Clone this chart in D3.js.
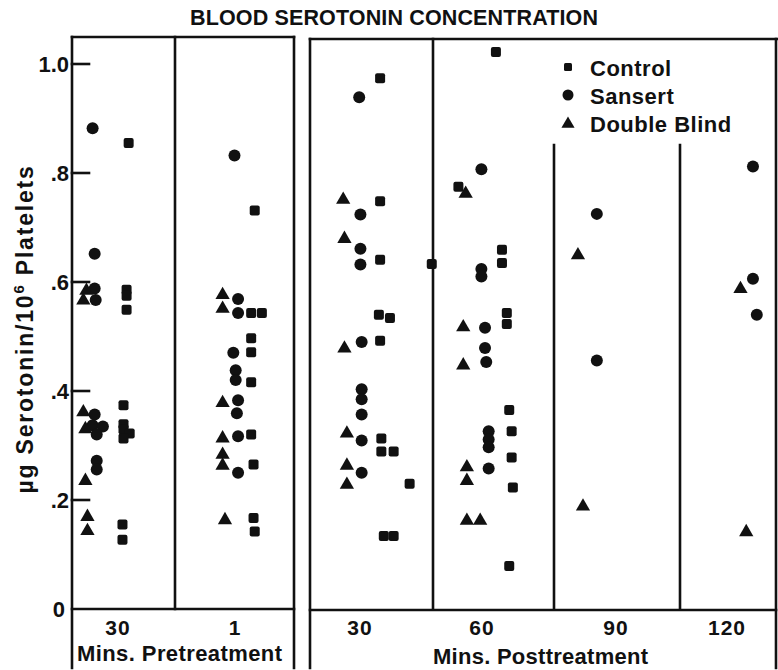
<!DOCTYPE html>
<html><head><meta charset="utf-8">
<script src="https://cdn.jsdelivr.net/npm/d3@7"></script>
<style>html,body{margin:0;padding:0;background:#fff;}svg{display:block;}</style>
</head><body>
<script>
// ---- data ----
const title = "BLOOD SEROTONIN CONCENTRATION";
const yLabel = "µg Serotonin/10";
const groups = ["pre30", "pre1", "post30", "post60", "post90", "post120"];
const groupLabels = ["30", "1", "30", "60", "90", "120"];
const phaseLabels = ["Mins. Pretreatment", "Mins. Posttreatment"];
const yTicks = [0, 0.2, 0.4, 0.6, 0.8, 1.0];
const yTickLabels = ["0", ".2", ".4", ".6", ".8", "1.0"];
const seriesNames = ["Control", "Sansert", "Double Blind"];
// each point: [group, value, within-group jitter (0..1)]
const controlPoints = [
  ["pre30",0.855,0.55],["pre30",0.586,0.53],["pre30",0.575,0.53],["pre30",0.549,0.53],["pre30",0.374,0.50],
  ["pre30",0.339,0.50],["pre30",0.330,0.50],["pre30",0.322,0.56],["pre30",0.313,0.50],["pre30",0.155,0.49],["pre30",0.127,0.49],
  ["pre1",0.731,0.67],["pre1",0.543,0.64],["pre1",0.543,0.73],["pre1",0.497,0.64],["pre1",0.471,0.64],
  ["pre1",0.416,0.64],["pre1",0.320,0.64],["pre1",0.265,0.66],["pre1",0.167,0.66],["pre1",0.142,0.67],
  ["post30",0.974,0.57],["post30",0.748,0.57],["post30",0.641,0.57],["post30",0.540,0.56],["post30",0.534,0.65],
  ["post30",0.492,0.57],["post30",0.313,0.58],["post30",0.289,0.58],["post30",0.289,0.68],["post30",0.230,0.81],
  ["post30",0.134,0.60],["post30",0.134,0.68],["post30",0.633,0.99],
  ["post60",1.022,0.52],["post60",0.775,0.21],["post60",0.659,0.57],["post60",0.635,0.57],["post60",0.543,0.61],
  ["post60",0.523,0.61],["post60",0.365,0.63],["post60",0.326,0.65],["post60",0.278,0.65],["post60",0.223,0.66],["post60",0.079,0.63]
];
const sansertPoints = [
  ["pre30",0.882,0.20],["pre30",0.652,0.22],["pre30",0.588,0.22],["pre30",0.567,0.23],["pre30",0.357,0.22],
  ["pre30",0.337,0.20],["pre30",0.335,0.30],["pre30",0.320,0.24],["pre30",0.272,0.24],["pre30",0.256,0.24],
  ["pre1",0.832,0.50],["pre1",0.569,0.53],["pre1",0.543,0.53],["pre1",0.470,0.49],["pre1",0.438,0.51],
  ["pre1",0.420,0.51],["pre1",0.383,0.53],["pre1",0.359,0.52],["pre1",0.317,0.53],["pre1",0.250,0.53],
  ["post30",0.939,0.40],["post30",0.724,0.41],["post30",0.661,0.41],["post30",0.632,0.41],["post30",0.490,0.42],
  ["post30",0.403,0.42],["post30",0.385,0.42],["post30",0.357,0.42],["post30",0.309,0.42],["post30",0.250,0.42],
  ["post60",0.807,0.40],["post60",0.624,0.40],["post60",0.610,0.40],["post60",0.516,0.43],["post60",0.479,0.43],
  ["post60",0.453,0.44],["post60",0.326,0.46],["post60",0.311,0.46],["post60",0.297,0.46],["post60",0.258,0.46],
  ["post90",0.725,0.34],["post90",0.456,0.34],
  ["post120",0.812,0.76],["post120",0.606,0.76],["post120",0.540,0.80]
];
const doubleBlindPoints = [
  ["pre30",0.586,0.14],["pre30",0.568,0.11],["pre30",0.363,0.11],["pre30",0.332,0.13],["pre30",0.237,0.13],
  ["pre30",0.171,0.15],["pre30",0.145,0.15],
  ["pre1",0.578,0.40],["pre1",0.553,0.40],["pre1",0.380,0.40],["pre1",0.315,0.40],["pre1",0.285,0.40],
  ["pre1",0.265,0.40],["pre1",0.165,0.42],
  ["post30",0.753,0.27],["post30",0.681,0.28],["post30",0.480,0.28],["post30",0.324,0.30],["post30",0.265,0.30],["post30",0.230,0.30],
  ["post60",0.764,0.27],["post60",0.519,0.25],["post60",0.449,0.25],["post60",0.262,0.28],["post60",0.237,0.28],
  ["post60",0.164,0.28],["post60",0.164,0.39],
  ["post90",0.651,0.19],["post90",0.190,0.23],
  ["post120",0.589,0.63],["post120",0.143,0.69]
];

// ---- layout ----
const W = 778, H = 670;
const FONT = "'Liberation Sans', Arial, sans-serif";
const panelBounds = {pre30:[72,175], pre1:[175,294], post30:[310,433], post60:[433,554], post90:[554,680], post120:[680,776]};
const base = 609, topL = 37, topR = 39, bottomFrame = 668, innerTop = 145;

const svg = d3.select("body").append("svg").attr("width", W).attr("height", H);
const y = d3.scaleLinear().domain([0, 1]).range([base, 64]);
const xs = {};
groups.forEach(g => xs[g] = d3.scaleLinear().domain([0, 1]).range(panelBounds[g]));

const ink = "#111";
const lines = svg.append("g").attr("stroke", ink).attr("stroke-width", 2.6).attr("fill", "none").attr("stroke-linecap", "square");
function ln(x1, y1, x2, y2) { lines.append("line").attr("x1", x1).attr("y1", y1).attr("x2", x2).attr("y2", y2); }
// left box
const L0 = panelBounds.pre30[0], L1 = panelBounds.pre1[1];
ln(L0, topL, L1, topL); ln(L0, topL, L0, bottomFrame); ln(L1, topL, L1, bottomFrame);
ln(panelBounds.pre1[0], topL, panelBounds.pre1[0], base); ln(L0, base, L1, base);
// right box
const R0 = panelBounds.post30[0], R1 = panelBounds.post120[1];
ln(R0, topR, W, topR); ln(R0, topR, R0, bottomFrame); ln(R1, topR, R1, bottomFrame);
ln(panelBounds.post60[0], topR, panelBounds.post60[0], base);
ln(panelBounds.post90[0], innerTop, panelBounds.post90[0], base);
ln(panelBounds.post120[0], innerTop, panelBounds.post120[0], base);
ln(R0, base + 1, R1, base + 1);

// y axis ticks (inside) and labels
yTicks.forEach((t, i) => {
  if (t > 0) ln(L0, y(t), L0 + 17, y(t));
  svg.append("text").attr("x", t > 0 ? 69 : 65).attr("y", y(t) + 8)
    .attr("text-anchor", "end").attr("font-family", FONT).attr("font-weight", "bold")
    .attr("font-size", 22).attr("fill", ink).text(yTickLabels[i]);
});

// title
svg.append("text").attr("x", 394).attr("y", 25).attr("text-anchor", "middle")
  .attr("font-family", FONT).attr("font-weight", "bold").attr("font-size", 21.5).attr("fill", ink)
  .attr("textLength", 408).attr("lengthAdjust", "spacing").text(title);

// y label
const yl = svg.append("text").attr("transform", "translate(33,329) rotate(-90)").attr("text-anchor", "middle")
  .attr("font-family", FONT).attr("font-weight", "bold").attr("font-size", 23).attr("fill", ink)
  .attr("letter-spacing", 1.8);
yl.append("tspan").text(yLabel);
yl.append("tspan").attr("dy", -9).attr("font-size", 15).text("6");
yl.append("tspan").attr("dy", 9).text(" Platelets");

// group labels
groups.forEach((g, i) => {
  const cx = {pre30:118, pre1:235, post30:360, post60:482, post90:616, post120:727}[g];
  svg.append("text").attr("x", cx).attr("y", 635).attr("text-anchor", "middle")
    .attr("font-family", FONT).attr("font-weight", "bold").attr("font-size", 21).attr("fill", ink)
    .attr("letter-spacing", 1).text(groupLabels[i]);
});
svg.append("text").attr("x", 77).attr("y", 661).attr("font-family", FONT).attr("font-weight", "bold")
  .attr("font-size", 22).attr("fill", ink).attr("textLength", 205).attr("lengthAdjust", "spacing").text(phaseLabels[0]);
svg.append("text").attr("x", 433).attr("y", 664).attr("font-family", FONT).attr("font-weight", "bold")
  .attr("font-size", 22).attr("fill", ink).attr("textLength", 215).attr("lengthAdjust", "spacing").text(phaseLabels[1]);

// markers
const triPath = d3.symbol().type(d3.symbolTriangle).size(88)();
const pts = svg.append("g").attr("fill", ink);
function drawMarker(sel, kind) {
  if (kind === 0) sel.append("rect").attr("x", -5).attr("y", -5).attr("width", 10).attr("height", 10).attr("rx", 2);
  else if (kind === 1) sel.append("circle").attr("r", 6);
  else sel.append("path").attr("d", triPath).attr("transform", "translate(0,1)");
}
[controlPoints, sansertPoints, doubleBlindPoints].forEach((arr, k) => {
  pts.selectAll(null).data(arr).enter().append("g")
    .attr("transform", d => `translate(${xs[d[0]](d[2])},${y(d[1])})`)
    .each(function () { drawMarker(d3.select(this), k); });
});

// legend
const legend = svg.append("g").attr("fill", ink);
seriesNames.forEach((name, i) => {
  const gy = 67 + i * 28;
  const m = legend.append("g").attr("transform", `translate(568,${gy})`);
  if (i === 0) m.append("rect").attr("x", -4).attr("y", -4).attr("width", 8).attr("height", 8).attr("rx", 1.5);
  else if (i === 1) m.append("circle").attr("r", 5.5);
  else m.append("path").attr("d", d3.symbol().type(d3.symbolTriangle).size(75)()).attr("transform", "translate(0,1)");
  legend.append("text").attr("x", 590).attr("y", gy + 9).attr("font-family", FONT).attr("font-weight", "bold")
    .attr("font-size", 22).attr("letter-spacing", 0.5).text(name);
});
</script>
</body></html>
